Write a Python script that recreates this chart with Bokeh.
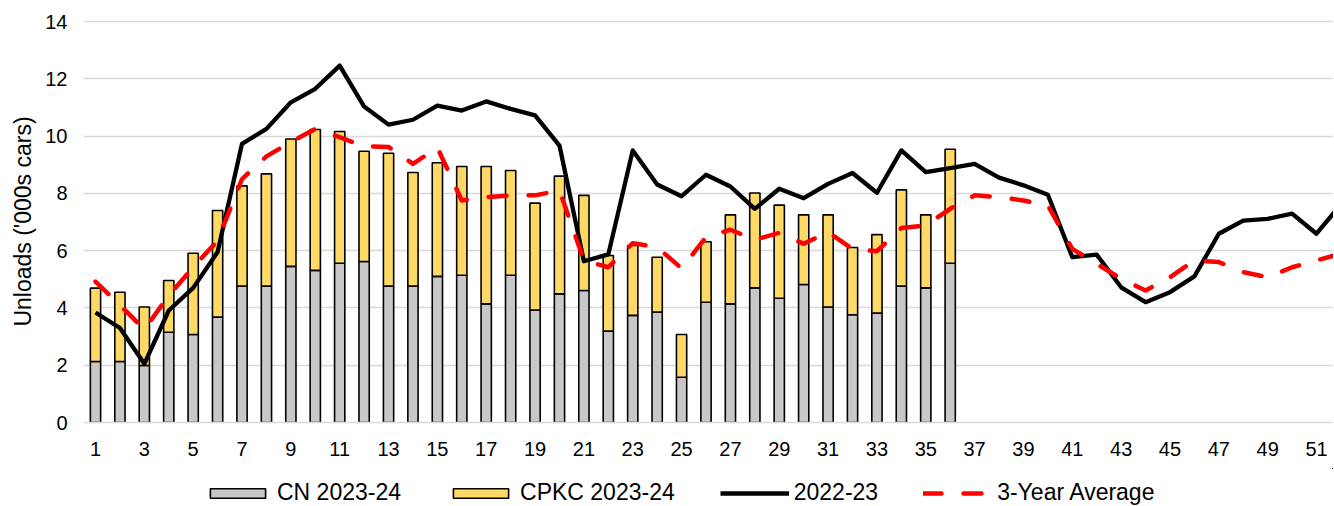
from bokeh.plotting import figure
from bokeh.layouts import column
from bokeh.models import Range1d, FixedTicker, Legend, LegendItem, ColumnDataSource
from bokeh.embed import file_html
from bokeh.resources import INLINE

weeks_bar = list(range(1, 37))
cn_2324 = [2.13, 2.13, 1.99, 3.15, 3.07, 3.68, 4.76, 4.76, 5.45, 5.31, 5.56, 5.62,
           4.76, 4.76, 5.10, 5.14, 4.14, 5.14, 3.93, 4.49, 4.61, 3.19, 3.74, 3.86,
           1.58, 4.20, 4.14, 4.70, 4.34, 4.82, 4.03, 3.76, 3.82, 4.76, 4.70, 5.56]
cpkc_2324 = [2.56, 2.42, 2.04, 1.81, 2.84, 3.72, 3.50, 3.92, 4.45, 4.92, 4.60, 3.85,
             4.64, 3.97, 3.97, 3.80, 4.80, 3.66, 3.73, 4.11, 3.32, 2.64, 2.44, 1.91,
             1.49, 2.11, 3.11, 3.31, 3.25, 2.43, 3.22, 2.35, 2.74, 3.36, 2.55, 3.98]

weeks_line = list(range(1, 53))
y2223 = [3.84, 3.30, 2.05, 3.91, 4.70, 5.95, 9.73, 10.25, 11.18, 11.65, 12.46, 11.03,
         10.40, 10.57, 11.06, 10.89, 11.21, 10.95, 10.72, 9.67, 5.63, 5.87, 9.50, 8.31,
         7.90, 8.65, 8.24, 7.46, 8.16, 7.83, 8.33, 8.71, 8.02, 9.50, 8.74, 8.88,
         9.03, 8.55, 8.28, 7.95, 5.77, 5.86, 4.72, 4.20, 4.55, 5.10, 6.59, 7.05,
         7.11, 7.29, 6.59, 7.62]
avg3 = [4.92, 4.10, 3.25, 4.43, 5.42, 6.35, 8.50, 9.29, 9.79, 10.25, 9.96, 9.64,
        9.62, 9.03, 9.60, 7.75, 7.87, 7.93, 7.93, 8.10, 5.66, 5.42, 6.26, 6.12,
        5.38, 6.47, 6.73, 6.38, 6.62, 6.24, 6.65, 6.06, 5.98, 6.79, 6.88, 7.46,
        7.93, 7.87, 7.75, 7.58, 6.06, 5.54, 5.02, 4.61, 5.07, 5.66, 5.60, 5.25,
        5.07, 5.42, 5.66, 5.89]

x_ticks = list(range(1, 53, 2))
y_ticks = list(range(0, 15, 2))
series_names = ["CN 2023-24", "CPKC 2023-24", "2022-23", "3-Year Average"]

FONT = "Liberation Sans"
FW, FH = 1250, 402
PX_PER_WEEK = 24.42
X0 = 1 - 12 / PX_PER_WEEK

CN_FILL, CPKC_FILL = "#C8C8C8", "#FFD966"
BAR_STYLE = dict(line_color="black", line_width=1.6)
L1_STYLE = dict(line_color="black", line_width=4.3, line_join="round")
L2_STYLE = dict(line_color="#FF0000", line_width=4.5, line_dash="18 22",
                line_cap="round", line_join="round")

p = figure(frame_width=FW, frame_height=FH, output_backend="svg",
           toolbar_location=None,
           x_range=Range1d(X0, X0 + FW / PX_PER_WEEK), y_range=Range1d(0, 14.035),
           min_border_left=83, min_border_right=0, min_border_top=20,
           min_border_bottom=46)
p.outline_line_color = None

bar_src = ColumnDataSource(dict(week=weeks_bar, cn=cn_2324, cpkc=cpkc_2324))
p.vbar_stack(["cn", "cpkc"], x="week", width=0.42, source=bar_src,
             fill_color=[CN_FILL, CPKC_FILL], **BAR_STYLE)

line_src = ColumnDataSource(dict(week=weeks_line, y2223=y2223, avg3=avg3))
p.line("week", "y2223", source=line_src, **L1_STYLE)
p.line("week", "avg3", source=line_src, **L2_STYLE)

# axes
p.xaxis.ticker = FixedTicker(ticks=x_ticks)
p.yaxis.ticker = FixedTicker(ticks=y_ticks)
for ax in (p.xaxis[0], p.yaxis[0]):
    ax.major_tick_line_color = None
    ax.minor_tick_line_color = None
    ax.major_tick_out = 0
    ax.major_tick_in = 0
    ax.minor_tick_out = 0
    ax.minor_tick_in = 0
    ax.major_label_text_font = FONT
    ax.major_label_text_font_size = "20px"
    ax.major_label_text_color = "#000000"
p.xaxis.axis_line_color = "#D9D9D9"
p.xaxis.axis_line_width = 1.5
p.yaxis.axis_line_color = None
p.xaxis.major_label_standoff = 19
p.yaxis.major_label_standoff = 16
p.yaxis.axis_label = "Unloads ('000s cars)"
p.yaxis.axis_label_text_font = FONT
p.yaxis.axis_label_text_font_size = "23px"
p.yaxis.axis_label_text_font_style = "normal"
p.yaxis.axis_label_text_color = "#000000"
p.yaxis.axis_label_standoff = 6

p.xgrid.grid_line_color = None
p.ygrid.grid_line_color = "#D9D9D9"
p.ygrid.grid_line_width = 1.5
p.ygrid.ticker = FixedTicker(ticks=y_ticks)

# legend strip below the chart: same series, drawn out of view, only the legend shows
lg = figure(width=FW + 83, height=38, output_backend="svg", toolbar_location=None,
            x_range=Range1d(-3, -2), y_range=Range1d(-3, -2),
            min_border_left=0, min_border_right=0, min_border_top=0,
            min_border_bottom=0)
lg.axis.visible = False
lg.grid.visible = False
lg.outline_line_color = None
lg_bars = lg.vbar_stack(["cn", "cpkc"], x="week", width=0.42, source=bar_src,
                        fill_color=[CN_FILL, CPKC_FILL], **BAR_STYLE)
r_l1 = lg.line("week", "y2223", source=line_src, **L1_STYLE)
r_l2 = lg.line("week", "avg3", source=line_src, **L2_STYLE)

legend = Legend(items=[
    LegendItem(label=series_names[0], renderers=[lg_bars[0]]),
    LegendItem(label=series_names[1], renderers=[lg_bars[1]]),
    LegendItem(label=series_names[2], renderers=[r_l1]),
    LegendItem(label=series_names[3], renderers=[r_l2]),
], orientation="horizontal", location=(120, 0), border_line_color=None,
    background_fill_alpha=0, padding=0, margin=0, spacing=45,
    glyph_width=69, glyph_height=12, label_standoff=5,
    label_text_font=FONT, label_text_font_size="23px", label_text_color="#000000")
lg.add_layout(legend, "center")

layout = column(p, lg, spacing=0)
open("out.html", "w").write(file_html(layout, INLINE))
